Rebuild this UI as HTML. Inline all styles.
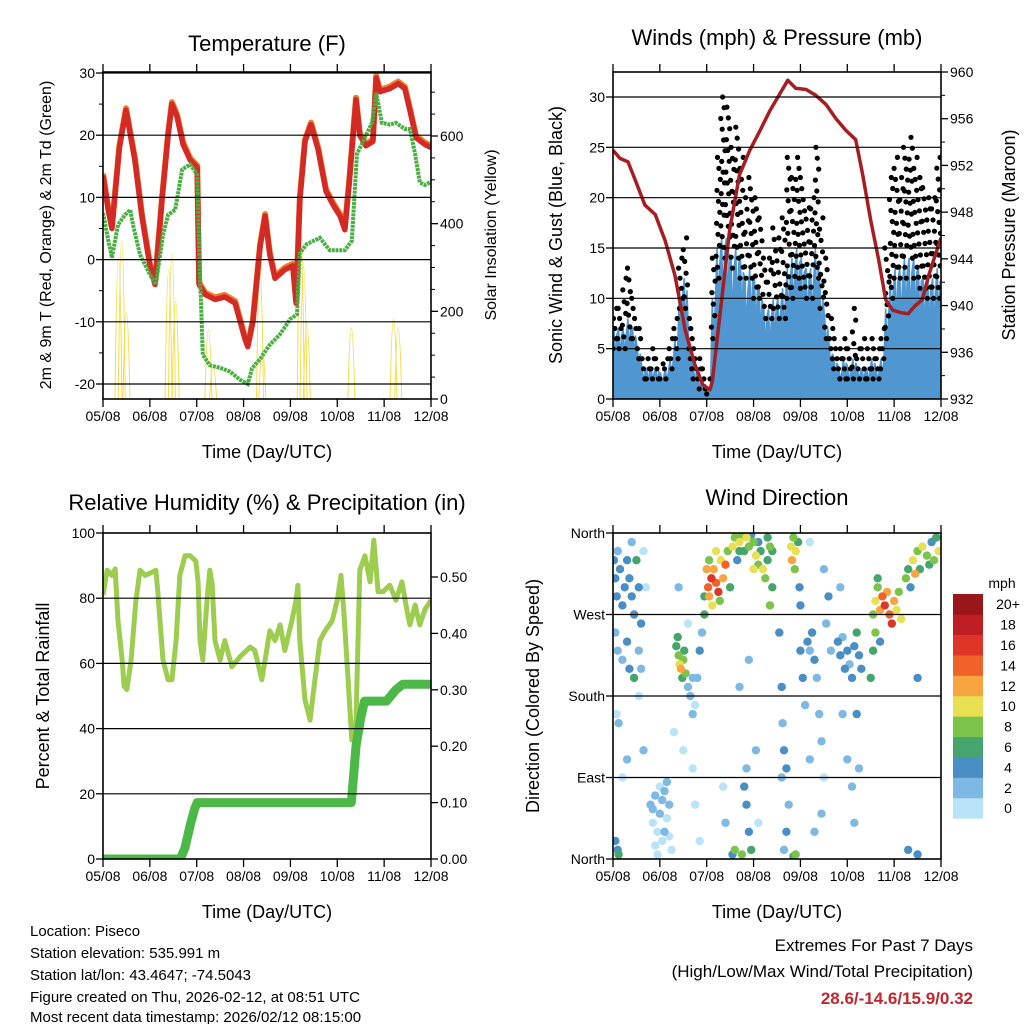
<!DOCTYPE html>
<html><head><meta charset="utf-8"><style>
html,body{margin:0;padding:0;background:#fff}
svg{display:block;font-family:"Liberation Sans",sans-serif}
</style></head><body>
<svg id="chart" width="1024" height="1024" viewBox="0 0 1024 1024" xmlns="http://www.w3.org/2000/svg">
<defs>
<clipPath id="c1"><rect x="103" y="72" width="328" height="327"/></clipPath>
<clipPath id="c2"><rect x="613" y="72" width="328" height="327"/></clipPath>
<clipPath id="c3"><rect x="103" y="533" width="328" height="326"/></clipPath>
<clipPath id="c4"><rect x="613" y="533" width="328" height="326"/></clipPath>
</defs>
<g id="root"></g>
<g font-size="15" fill="#000">
<text x="30" y="936">Location: Piseco</text>
<text x="30" y="958">Station elevation: 535.991 m</text>
<text x="30" y="980">Station lat/lon: 43.4647; -74.5043</text>
<text x="30" y="1002">Figure created on Thu, 2026-02-12, at 08:51 UTC</text>
<text x="30" y="1022">Most recent data timestamp: 2026/02/12 08:15:00</text>
</g>
<g font-size="17" text-anchor="end">
<text x="973" y="951">Extremes For Past 7 Days</text>
<text x="973" y="977">(High/Low/Max Wind/Total Precipitation)</text>
<text x="973" y="1004" fill="#c1272d" font-weight="bold">28.6/-14.6/15.9/0.32</text>
</g>
</svg>
<script>
// ---------- DATA ----------
const xTickLabels = ["05/08","06/08","07/08","08/08","09/08","10/08","11/08","12/08"];
const tempTimes = [0,.11,.19,.35,.49,.68,.83,1.0,1.11,1.26,1.39,1.47,1.58,1.71,1.86,2.01,2.05,2.18,2.39,2.6,2.82,3.03,3.09,3.2,3.35,3.46,3.56,3.67,3.88,4.05,4.12,4.2,4.31,4.44,4.59,4.76,4.91,5.06,5.16,5.25,5.4,5.48,5.61,5.76,5.83,5.91,6.12,6.3,6.44,6.55,6.68,6.87,7.0];
const tempValues = [13.5,8,5,18,24,16,7,-1,-4,9.6,20,25,23,18.5,16,14.8,-4,-5.6,-6.4,-6,-7,-12.8,-14,-10,2,7,0.8,-3,-1.6,-1,-7,9.6,19,21.7,17.7,11,8.8,7,4.8,12,25.7,20,18.3,19,29.2,27,27.5,28.3,27.5,24,19.6,18.5,18];
const dewTimes = [0,.11,.19,.32,.47,.58,.64,.79,1.0,1.13,1.28,1.39,1.54,1.69,1.86,2.01,2.05,2.13,2.28,2.5,2.71,2.92,3.09,3.18,3.35,3.56,3.78,3.99,4.14,4.2,4.35,4.63,4.84,5.16,5.31,5.42,5.74,5.83,5.95,6.12,6.25,6.44,6.55,6.66,6.76,6.87,7];
const dewValues = [7.5,3.2,0.3,5.6,7.2,8,5.6,0.8,-2.4,-4,4,7.2,8,14.5,15.3,13.7,2,-15.3,-17,-17.4,-18,-19.3,-20,-17.5,-16,-13.7,-12,-9.6,-8.8,1,2.5,3.5,1.5,1.5,3,17,22,26.8,22,21.7,22,21,21,17,12.4,12,12.5];
const solarPeakTimes = [0.33,0.4,0.5,1.4,1.47,1.55,2.25,2.35,3.35,3.4,4.22,4.28,4.35,5.3,6.2,6.3];
const solarPeakValues = [600,680,350,540,620,400,270,100,560,180,746,560,300,280,320,280];
const sonicValues = [7,7,7,8,7,5,3,3,3,3, 2.5,3,4,6,11,12,5,3,2,1.5, 1,10,15,16,16,14,15,14,12,13, 12,11,9,9,10,10,11,13,14,15, 14,13,13,15,11,8,5,4,3,4, 3,4,3,3,3,4,3,4,9,12, 13,13,14,14,14,13,12,12,12,13];
const gustHigh = [9,9,12,13,10,7,4,4,5,4, 3.5,4,6,8,14,16,8,5,4,3, 2,14,24,30,29,25,27,24,20,22, 20,18,14,14,17,16,18,24,22,24, 22,19,20,25,18,14,8,6,5,6, 5,9,5,6,5,6,5,7,15,22, 24,22,25,26,24,22,21,20,20,24];
const gustLow = [5,5,5,6,6,4,2,2,2,2, 2,2,3,4,9,9,3,2,1,1, 0.5,6,12,14,15,13,14,12,12,12, 10,10,8,8,9,8,8,10,10,12, 11,10,10,12,9,6,4,3,2,2, 2,2,2,2,2,2,2,3,6,10, 12,12,12,14,12,11,11,10,10,10];
const pressTimes = [0,.15,.32,.47,.68,.9,1.11,1.32,1.54,1.75,1.92,2.07,2.12,2.49,2.7,2.92,3.14,3.35,3.54,3.73,3.9,4.12,4.33,4.55,4.76,4.97,5.18,5.33,5.5,5.67,5.82,5.97,6.14,6.3,6.45,6.6,6.74,6.85,7];
const pressValues = [953.3,952.6,952.3,950.8,948.6,947.8,945.6,942.6,937.9,934.9,933.2,932.8,933.5,946.5,951.2,953.3,955,956.7,958,959.3,958.6,958.5,958,957.2,956,955,954.2,951.2,947.3,943.9,940.5,939.6,939.4,939.3,940,940.5,942.6,944,945.8];
const rhTimes = [0,.09,.19,.26,.32,.41,.45,.51,.6,.7,.79,.9,1.05,1.13,1.17,1.28,1.39,1.47,1.56,1.64,1.75,1.86,1.98,2.03,2.07,2.13,2.22,2.28,2.33,2.39,2.5,2.6,2.75,2.92,3.14,3.24,3.39,3.46,3.56,3.67,3.78,3.88,4.03,4.12,4.16,4.2,4.31,4.42,4.48,4.63,4.74,4.89,5.0,5.08,5.14,5.23,5.31,5.4,5.48,5.59,5.7,5.78,5.87,5.98,6.12,6.25,6.38,6.49,6.55,6.66,6.76,6.87,7];
const rhValues = [81,88.6,87,89,73,61,53,52,61,79,88.6,87,88,88.6,82,61,55,55,67,87,93,93,91.4,85,67,61,79.4,88.6,84,67,61,67,59,62,65,64,55,61,70,67,71.8,64,73,79.4,84,67,48.8,42.6,50,67,70,73,79.4,87,76,55,36.5,42.6,88.6,93,85,97.8,82,82,84,79.4,85,76,71.8,77.9,71.8,76.5,79.4];
const precipTimes = [0,1.65,1.75,1.86,1.96,2.01,5.3,5.35,5.4,5.5,5.58,6.05,6.25,6.4,7];
const precipValues = [0,0,.02,.06,.09,.1,.1,.15,.2,.25,.28,.28,.30,.31,.31];
const dirTimes = [0.02,0.05,0.08,0.1,0.15,0.2,0.25,0.3,0.35,0.4,0.45,0.5,0.55,0.6,0.05,0.1,0.2,0.3,0.35,0.45,0.55,0.6,0.08,0.12,0.2,0.3,0.05,0.1,0.12,0.4,0.65,0.7,0.55,0.65,
0.8,0.85,0.9,0.95,1.0,1.05,1.1,1.15,1.2,0.9,1.0,1.1,0.85,1.05,1.2,1.25,0.95,1.15,
1.35,1.4,1.42,1.45,1.5,1.48,1.55,1.38,1.52,1.6,1.65,1.7,1.75,1.8,1.7,1.4,1.3,1.5,1.6,1.7,1.75,1.85,1.9,1.95,1.95,1.85,
2.0,2.03,2.05,2.1,2.15,2.2,2.25,2.3,2.05,2.2,2.35,2.4,2.12,2.28,2.45,2.5,
2.55,2.6,2.7,2.75,2.8,2.85,2.9,3.0,3.05,3.1,3.15,3.2,3.25,3.3,3.35,2.65,2.95,3.0,2.7,3.1,3.3,3.4,3.4,3.35,
2.8,2.85,2.9,2.95,2.75,2.85,3.05,3.1,2.4,2.35,2.9,2.7,2.6,2.55,
3.55,3.6,3.62,3.65,3.7,3.75,3.7,3.6,3.65,3.8,3.85,3.9,3.82,3.88,3.95,3.98,4.0,4.0,4.05,4.1,3.9,3.85,
4.15,4.2,4.25,4.3,4.35,4.4,4.45,4.5,4.45,4.3,4.2,4.5,4.6,4.55,4.65,4.2,
4.8,4.85,4.9,4.95,5.0,5.05,5.1,5.15,5.2,5.25,5.3,4.85,4.9,5.0,5.1,5.15,5.2,5.25,
5.55,5.6,5.65,5.7,5.75,5.8,5.85,5.9,5.95,6.0,6.05,6.1,6.15,5.6,5.55,5.65,5.5,5.7,
6.25,6.3,6.4,6.45,6.5,6.55,6.6,6.7,6.75,6.8,6.85,6.9,6.95,6.35,6.5,6.3,6.5];
const dirValues = [330,310,290,340,320,280,300,330,310,290,270,330,300,260,250,230,220,240,210,200,230,210,160,150,90,110,20,10,5,350,340,300,180,120,
60,40,70,30,50,20,75,45,60,15,80,30,55,65,25,10,5,85,
235,225,215,210,220,200,205,245,230,190,180,200,170,200,160,300,140,120,260,100,60,20,250,290,270,230,
320,300,290,310,320,305,295,330,330,340,310,325,280,285,340,300,
345,355,350,358,340,355,345,350,335,325,340,320,310,330,345,330,358,320,340,350,355,340,300,280,
80,60,30,10,5,100,120,40,40,80,220,190,10,5,
250,190,150,120,100,60,30,90,10,345,355,340,330,320,350,300,280,230,200,170,5,3,
240,230,250,220,200,160,130,90,50,30,350,320,290,260,230,110,
240,225,245,210,230,215,200,235,250,225,210,300,160,110,80,40,160,100,
270,285,300,275,290,280,295,270,260,285,275,295,265,250,230,310,200,240,
310,320,330,315,340,320,345,335,325,350,330,355,340,300,200,10,5];
const dirSpeeds = [4,4,4,3,4,4,5,4,5,4,4,6,4,4,3,2,2,4,4,6,2,2,1,2,1,2,4,4,6,2,1,1,1,2,
2,1,2,1,2,1,2,1,2,1,1,2,2,2,1,1,1,2,
6,8,10,12,8,6,8,6,6,2,2,3,1,2,2,2,1,1,1,1,1,1,2,6,6,4,
12,14,12,16,12,14,16,10,8,10,12,14,10,8,8,6,
10,8,10,8,6,10,8,8,10,8,6,10,8,6,8,4,4,10,6,4,6,6,6,8,
4,4,4,6,8,2,2,1,2,1,2,2,8,4,
4,4,2,4,4,2,4,2,2,10,8,10,12,8,6,4,4,4,4,2,8,6,
4,3,4,4,2,2,2,1,2,2,1,2,4,2,2,2,
4,4,2,4,4,2,4,4,6,4,4,2,2,2,2,2,4,2,
8,10,8,12,14,16,12,14,16,12,10,8,10,8,6,6,6,4,
8,6,10,12,8,6,10,8,6,4,8,6,10,4,4,4,4];
const speedLabels = ["0","2","4","6","8","10","12","14","16","18","20+"];
const speedColors = ["#b9e3f7","#7db9e3","#4a8ec6","#45a56d","#7cc34c","#e7e052","#f7a541","#f0622a","#df3428","#be1e24","#99161b"];

// ---------- HELPERS ----------
const NS="http://www.w3.org/2000/svg";
const root=document.getElementById('root');
function el(tag,attrs,parent){const e=document.createElementNS(NS,tag);for(const k in attrs)e.setAttribute(k,attrs[k]);(parent||root).appendChild(e);return e;}
function lin(d0,d1,r0,r1){return v=>r0+(v-d0)*(r1-r0)/(d1-d0);}
function txt(s,x,y,size,anchor,parent,name,extra){const t=el('text',Object.assign({x:x,y:y,'font-size':size,'text-anchor':anchor||'start'},extra||{}),parent);t.textContent=s;return t;}
function pathFrom(ts,vs,sx,sy){return ts.map((t,i)=>(i?'L':'M')+sx(t).toFixed(1)+','+sy(vs[i]).toFixed(1)).join('');}

function frame(p,g,opts){
  opts.grid.forEach(v=>{const y=opts.ly(v);const l=el('line',{x1:p.x0,x2:p.x1,y1:y,y2:y,stroke:'#000','stroke-width':1.2},g);});
  const r=el('rect',{x:p.x0,y:p.y0,width:p.x1-p.x0,height:p.y1-p.y0,fill:'none',stroke:'#000','stroke-width':1.6},g);
  
  const sx=lin(0,7,p.x0,p.x1);
  const xa=el('g',{},g);
  xTickLabels.forEach((lab,i)=>{const x=sx(i);
    el('line',{x1:x,x2:x,y1:p.y1,y2:p.y1+8,stroke:'#000','stroke-width':1.3},xa);
    el('line',{x1:x,x2:x,y1:p.y0,y2:p.y0-8,stroke:'#000','stroke-width':1.3},xa);
    txt(lab,x,p.y1+22,14,'middle',xa,'x-tick-label');});
  txt('Time (Day/UTC)',(p.x0+p.x1)/2,p.y1+59,18,'middle',g,'x-axis-title');
  const ya=el('g',{},g);
  opts.lticks.forEach((v,i)=>{const y=opts.ly(v);el('line',{x1:p.x0-7,x2:p.x0,y1:y,y2:y,stroke:'#000','stroke-width':1.3},ya);
    txt(opts.llabels[i],p.x0-8,y+5,14,'end',ya,'y-tick-label-left');});
  (opts.lminor||[]).forEach(v=>{const y=opts.ly(v);el('line',{x1:p.x0-4,x2:p.x0,y1:y,y2:y,stroke:'#000','stroke-width':1},ya);});
  if(opts.rticks){const yr=el('g',{},g);
    opts.rticks.forEach((v,i)=>{const y=opts.ry(v);el('line',{x1:p.x1,x2:p.x1+7,y1:y,y2:y,stroke:'#000','stroke-width':1.3},yr);
      txt(opts.rlabels[i],p.x1+9,y+5,14,'start',yr,'y-tick-label-right');});
    (opts.rminor||[]).forEach(v=>{const y=opts.ry(v);el('line',{x1:p.x1,x2:p.x1+4,y1:y,y2:y,stroke:'#000','stroke-width':1},yr);});}
  return sx;
}
function rotText(s,x,y,size,g,name){txt(s,0,0,size,'middle',g,name,{transform:`translate(${x},${y}) rotate(-90)`});}

// ---------- PANEL 1: TEMPERATURE ----------
(function(){
  const p={x0:103,x1:431,y0:72,y1:399};
  const g=el('g',{});
  const ly=lin(-20,30,384,73), ry=lin(0,600,399,136);
  const sx=lin(0,7,p.x0,p.x1);
  const c=el('g',{'clip-path':'url(#c1)'},g);
  const sol=el('g',{},c);
  solarPeakTimes.forEach((t,i)=>{const x=sx(t);const pk=el('path',{d:`M${x-3.5},${p.y1}Q${x},${ry(solarPeakValues[i])-20} ${x+3.5},${p.y1}`,fill:'none',stroke:'#f5dc4a','stroke-width':1},sol);
    });
  const d=pathFrom(tempTimes,tempValues,sx,ly);
  const o=el('path',{d:d,fill:'none',stroke:'#f07f2c','stroke-width':6,'stroke-linejoin':'round',transform:'translate(0,-2)'},c);
  const r=el('path',{d:d,fill:'none',stroke:'#d42a26','stroke-width':5.5,'stroke-linejoin':'round'},c);
  const gr=el('path',{d:pathFrom(dewTimes,dewValues,sx,ly),fill:'none',stroke:'#4aaf43','stroke-width':4,'stroke-dasharray':'3 0.8'},c);
  frame(p,g,{ly:ly,ry:ry,grid:[30,20,10,0,-10,-20],lticks:[30,20,10,0,-10,-20],llabels:['30','20','10','0','-10','-20'],lminor:[25,15,5,-5,-15],
    rticks:[0,200,400,600],rlabels:['0','200','400','600'],rminor:[50,100,150,250,300,350,450,500,550,650,700]});
  txt('Temperature (F)',267,51,22,'middle',g,'chart-title');
  rotText('2m & 9m T (Red, Orange) & 2m Td (Green)',51,235,16,g,'y-axis-title-left');
  rotText('Solar Insolation (Yellow)',496,235,16,g,'y-axis-title-right');
})();

// ---------- PANEL 2: WINDS ----------
(function(){
  const p={x0:613,x1:941,y0:72,y1:399};
  const g=el('g',{});
  const ly=lin(0,30,399,97), ry=lin(932,960,399,72);
  const sx=lin(0,7,p.x0,p.x1);
  const c=el('g',{'clip-path':'url(#c2)'},g);
  const bw=0.1;
  let d='M'+sx(0)+','+ly(0);
  sonicValues.forEach((v,i)=>{const t=i*bw;d+=`L${sx(t+0.02).toFixed(1)},${ly(v).toFixed(1)}L${sx(t+0.05).toFixed(1)},${ly(v*0.55).toFixed(1)}L${sx(t+0.08).toFixed(1)},${ly(v*0.9).toFixed(1)}`;});
  d+='L'+sx(7)+','+ly(0)+'Z';
  const b=el('path',{d:d,fill:'#5097d2',stroke:'#5097d2','stroke-width':1.5},c);
  const gg=el('g',{fill:'#000'},c);
  gustHigh.forEach((h,i)=>{const lo=gustLow[i];const t=i*bw;const n=Math.max(1,Math.round((h-lo)/1.1));
    for(let k=0;k<=n;k++){const v=lo+(h-lo)*k/n;const x=sx(t)+((k*37+i*13)%10)/10*(sx(bw)-sx(0));
      const dot=el('circle',{cx:x.toFixed(1),cy:ly(v).toFixed(1),r:2.6},gg);
      
      }});
  const pr=el('path',{d:pathFrom(pressTimes,pressValues,sx,ry),fill:'none',stroke:'#a51e22','stroke-width':3.5,'stroke-linejoin':'round'},c);
  
  frame(p,g,{ly:ly,ry:ry,grid:[5,10,15,20,25,30],lticks:[0,5,10,15,20,25,30],llabels:['0','5','10','15','20','25','30'],
    rticks:[932,936,940,944,948,952,956,960],rlabels:['932','936','940','944','948','952','956','960'],rminor:[934,938,942,946,950,954,958]});
  txt('Winds (mph) & Pressure (mb)',777,45,22,'middle',g,'chart-title');
  rotText('Sonic Wind & Gust (Blue, Black)',562,235,18,g,'y-axis-title-left');
  rotText('Station Pressure (Maroon)',1015,235,18,g,'y-axis-title-right');
})();

// ---------- PANEL 3: RH & PRECIP ----------
(function(){
  const p={x0:103,x1:431,y0:533,y1:859};
  const g=el('g',{});
  const ly=lin(0,100,859,533), ry=lin(0,0.5,859,577);
  const sx=lin(0,7,p.x0,p.x1);
  const c=el('g',{'clip-path':'url(#c3)'},g);
  const rh=el('path',{d:pathFrom(rhTimes,rhValues,sx,ly),fill:'none',stroke:'#9ccd4f','stroke-width':5,'stroke-linejoin':'round'},c);
  
  const pc=el('path',{d:pathFrom(precipTimes,precipValues,sx,ry),fill:'none',stroke:'#4cb848','stroke-width':9,'stroke-linejoin':'round'},c);
  
  frame(p,g,{ly:ly,ry:ry,grid:[20,40,60,80],lticks:[0,20,40,60,80,100],llabels:['0','20','40','60','80','100'],
    rticks:[0,.1,.2,.3,.4,.5],rlabels:['0.00','0.10','0.20','0.30','0.40','0.50']});
  txt('Relative Humidity (%) & Precipitation (in)',267,510,22,'middle',g,'chart-title');
  rotText('Percent & Total Rainfall',49,696,18,g,'y-axis-title-left');
})();

// ---------- PANEL 4: WIND DIRECTION ----------
(function(){
  const p={x0:613,x1:941,y0:533,y1:859};
  const g=el('g',{});
  const ly=lin(0,360,859,533);
  const sx=lin(0,7,p.x0,p.x1);
  const c=el('g',{'clip-path':'url(#c4)'},g);
  const order=dirTimes.map((t,i)=>i).sort((a,b)=>dirSpeeds[a]-dirSpeeds[b]);
  order.forEach(i=>{const s=dirSpeeds[i];const ci=Math.min(10,Math.floor(s/2));
    const dot=el('circle',{cx:sx(dirTimes[i]).toFixed(1),cy:ly(dirValues[i]).toFixed(1),r:4.2,fill:speedColors[ci]},c);
    
    });
  frame(p,g,{ly:ly,grid:[90,180,270],lticks:[0,90,180,270,360],llabels:['North','East','South','West','North']});
  txt('Wind Direction',777,505,22,'middle',g,'chart-title');
  rotText('Direction (Colored By Speed)',539,696,18,g,'y-axis-title-left');
  const cb=el('g',{},g);
  txt('mph',1002,588,14,'middle',cb,'colorbar-title');
  const h=20.4;
  speedColors.forEach((col,i)=>{const y=594+(10-i)*h;
    const r=el('rect',{x:953,y:y.toFixed(1),width:30,height:(h+0.3).toFixed(1),fill:col},cb);
    
    txt(speedLabels[i],1008,y+h/2+5,14,'middle',cb,'colorbar-label');});
})();
</script>
</body></html>
